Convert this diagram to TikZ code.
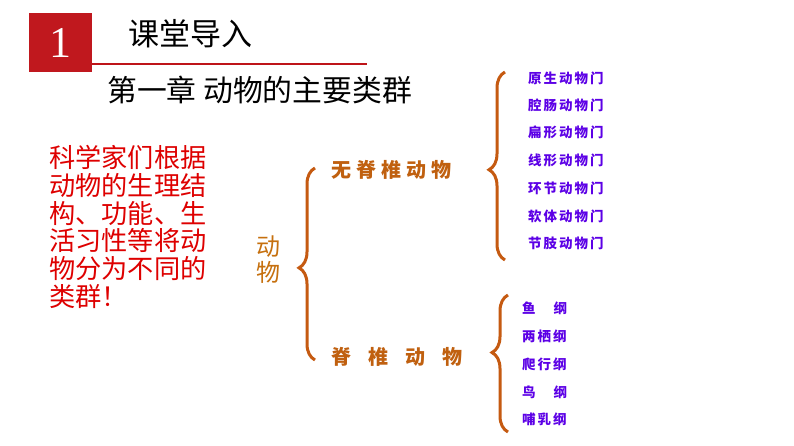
\documentclass[tikz,border=0pt]{standalone}
\usepackage{fontspec}
\setmainfont{Liberation Serif}
\newfontfamily\cjk{Noto Sans CJK SC}
\usetikzlibrary{decorations.pathreplacing}
\definecolor{barred}{RGB}{192,24,30}
\definecolor{linered}{RGB}{190,20,25}
\definecolor{txtred}{RGB}{222,0,0}
\definecolor{bracec}{RGB}{197,90,17}
\definecolor{orangetxt}{RGB}{192,96,15}
\definecolor{purp}{RGB}{92,0,230}
\tikzset{
  bracestyle/.style={draw=bracec,line width=3pt,decorate,
    decoration={brace,amplitude=16pt,raise=0pt}},
  itemtxt/.style={anchor=west,inner sep=0pt,text=purp,font=\cjk\bfseries\fontsize{13.5}{13.5}\selectfont},
  cattxt/.style={anchor=west,inner sep=0pt,text=orangetxt,font=\cjk\bfseries\fontsize{20}{20}\selectfont},
}
\newcommand{\gp}[1]{\hspace{#1}}
\begin{document}
\begin{tikzpicture}[x=1pt,y=-1pt]
\useasboundingbox (0,0) rectangle (794,446);
\fill[white] (0,0) rectangle (794,446);
% header
\node[fill=barred,minimum width=63pt,minimum height=59pt,inner sep=0pt,anchor=north west] (numbox) at (29,13) {};
\node[text=white,inner sep=0pt,font=\fontsize{44}{44}\selectfont] (num) at (numbox.center) {1};
\coordinate (lineend) at (367,64);
\draw[linered,line width=2pt] (numbox.south east |- lineend) -- (lineend);
\node[anchor=west,inner sep=0pt,font=\cjk\fontsize{31}{31}\selectfont] (title) at (128,34) {课堂导入};
\node[anchor=west,inner sep=0pt,font=\cjk\fontsize{29.8}{29.8}\selectfont] (chapter) at (107,90) {第一章 动物的主要类群};
% red paragraph
\node[anchor=north west,inner sep=0pt,align=left,text=txtred,font=\cjk\fontsize{26.2}{27.8}\selectfont] (para) at (49,145)
 {科学家们根据\\动物的生理结\\构、功能、生\\活习性等将动\\物分为不同的\\类群！};
% root
\node[inner sep=0pt,align=center,text=orangetxt!90!yellow,font=\cjk\fontsize{24}{26}\selectfont] (root) at (268,260) {动\\物};
% main brace
\coordinate (mb1) at (315,360);
\coordinate (mb2) at (315,168);
\draw[bracestyle,decoration={aspect=0.48}] (mb1) -- (mb2);
% categories
\node[cattxt] (inv) at (331,170) {无\gp{5pt}脊\gp{5pt}椎\gp{5pt}动\gp{5pt}物};
\node[cattxt] (ver) at (331,357) {脊\gp{17pt}椎\gp{17pt}动\gp{17pt}物};
% upper right brace
\coordinate (ub1) at (505,260);
\coordinate (ub2) at (505,72);
\draw[bracestyle,decoration={aspect=0.48}] (ub1) -- (ub2);
\node[itemtxt] (i1) at (528,78) {原\gp{2pt}生\gp{2pt}动\gp{2pt}物\gp{2pt}门};
\node[itemtxt] (i2) at (528,105) {腔\gp{2pt}肠\gp{2pt}动\gp{2pt}物\gp{2pt}门};
\node[itemtxt] (i3) at (528,132) {扁\gp{2pt}形\gp{2pt}动\gp{2pt}物\gp{2pt}门};
\node[itemtxt] (i4) at (528,160) {线\gp{2pt}形\gp{2pt}动\gp{2pt}物\gp{2pt}门};
\node[itemtxt] (i5) at (528,188) {环\gp{2pt}节\gp{2pt}动\gp{2pt}物\gp{2pt}门};
\node[itemtxt] (i6) at (528,216) {软\gp{2pt}体\gp{2pt}动\gp{2pt}物\gp{2pt}门};
\node[itemtxt] (i7) at (528,243) {节\gp{2pt}肢\gp{2pt}动\gp{2pt}物\gp{2pt}门};
% lower brace
\coordinate (lb1) at (508,432);
\coordinate (lb2) at (508,295);
\draw[bracestyle,decoration={aspect=0.58}] (lb1) -- (lb2);
\node[itemtxt] (j1) at (522,308) {鱼\gp{18pt}纲};
\node[itemtxt] (j2) at (522,336) {两\gp{2pt}栖\gp{2pt}纲};
\node[itemtxt] (j3) at (522,364) {爬\gp{2pt}行\gp{2pt}纲};
\node[itemtxt] (j4) at (522,392) {鸟\gp{18pt}纲};
\node[itemtxt] (j5) at (522,419) {哺\gp{2pt}乳\gp{2pt}纲};
\end{tikzpicture}
\end{document}
